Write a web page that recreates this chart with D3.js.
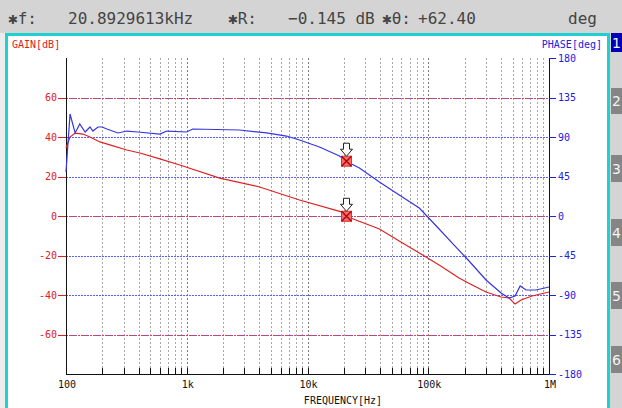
<!DOCTYPE html>
<html><head><meta charset="utf-8">
<script src="https://cdn.jsdelivr.net/npm/d3@7"></script>
<style>html,body{margin:0;padding:0;background:#d4d4d4;}svg{display:block;}</style>
</head><body>
<script>
// ---- data ----
const gainFreq = [100,108,119,138,158,191,231,319,409,598,876,1875,4010,8590,19400,20892.9613,39400,57500,84300,123000,180000,231000,301000,401000,467000,524000,587000,724000,1000000];
const gainDb   = [34.4,40,42,41.5,40,37.5,36,33.4,31.9,28.9,25.8,19.2,14.7,8.1,2.0,-0.145,-6.6,-12.7,-18.7,-24.8,-31.4,-34.9,-38.5,-41,-41.5,-44.6,-42.5,-40.5,-38.5];
const phaseFreq = [100,108,119,130,144,158,167,184,199,218,269,319,394,598,684,1000,1120,2740,4580,6700,8590,12560,18400,20892.9613,26900,39400,57500,84300,123000,163000,214000,301000,401000,467000,524000,577000,646000,781000,1000000];
const phaseDeg  = [50,116.2,94.6,104.8,95.7,101.4,96.8,101.4,101.4,99.1,94.6,96.8,95.7,93.4,96.8,95.7,99.1,98,94.6,91.1,86.6,78.6,68.4,62.4,54.7,38.7,24,9.1,-14.8,-33,-50.1,-72.9,-87.7,-93.4,-91.1,-79.7,-84.3,-84.3,-80.9];
const gainTicks = [60,40,20,0,-20,-40,-60];
const gainRedGrid = [60,0,-60];
const phaseTicks = [180,135,90,45,0,-45,-90,-135,-180];
const freqLabels = [[100,"100"],[1000,"1k"],[10000,"10k"],[100000,"100k"],[1000000,"1M"]];
const marker = {f:20892.9613, gain:-0.145, phase:62.40};
const header = [["✱f:",8],["20.8929613kHz",68],["✱R:",228],["−0.145 dB",288],["✱θ:",382],["+62.40",418],["deg",568]];
const tabs = ["1","2","3","4","5","6"];

// ---- layout ----
const W=622,H=408;
const L=66,R=549,T=58,B=374;
const svg=d3.select("body").append("svg").attr("width",W).attr("height",H);
svg.append("rect").attr("width",W).attr("height",H).attr("fill","#d4d4d4");
svg.append("rect").attr("x",0).attr("y",33).attr("width",5).attr("height",H).attr("fill","#ececec");
svg.append("rect").attr("x",5).attr("y",33).attr("width",604).attr("height",H).attr("fill","#ffffff");
// cyan frame
svg.append("path").attr("d",`M6.5,${H} V34.5 H608.5 V${H}`).attr("fill","none").attr("stroke","#1fd0d2").attr("stroke-width",3);

// header text
header.forEach(([t,x])=>{
  svg.append("text").attr("x",x).attr("y",24).text(t)
    .attr("font-family","DejaVu Sans Mono").attr("font-size",16).attr("fill","#444");
});

// tabs
const tabY=[[33,19],[88,26],[155,27],[219,27],[282,27],[346,27]];
tabs.forEach((t,i)=>{
  const [y,h]=tabY[i];
  svg.append("rect").attr("x",611).attr("y",y).attr("width",11).attr("height",h)
    .attr("fill",i===0?"#0000b8":"#858585");
  svg.append("text").attr("x",616.5).attr("y",y+h/2+5).attr("text-anchor","middle")
    .attr("font-family","DejaVu Sans").attr("font-size",14).attr("fill","#f4f4f4").text(t);
});

const x=d3.scaleLog().domain([100,1e6]).range([L,R]);
const yG=d3.scaleLinear().domain([-80,80]).range([B,T]);
const yP=d3.scaleLinear().domain([-180,180]).range([B,T]);

// vertical grid
const minor=[];
[100,1000,10000,100000].forEach(d=>{for(let k=2;k<=9;k++)minor.push(k*d);});
const decades=[1000,10000,100000];
const g=svg.append("g");
g.selectAll("line.vm").data(minor).join("line").attr("class","vm")
  .attr("x1",d=>Math.round(x(d))+0.5).attr("x2",d=>Math.round(x(d))+0.5).attr("y1",T).attr("y2",B)
  .attr("stroke","#a8a8a8").attr("stroke-dasharray","2,2");
g.selectAll("line.vd").data(decades).join("line").attr("class","vd")
  .attr("x1",d=>Math.round(x(d))+0.5).attr("x2",d=>Math.round(x(d))+0.5).attr("y1",T).attr("y2",B)
  .attr("stroke","#7a7a7a").attr("stroke-dasharray","2,2");

// horizontal grid
g.selectAll("line.hp").data(phaseTicks.filter(d=>Math.abs(d)<180)).join("line").attr("class","hp")
  .attr("x1",L).attr("x2",R).attr("y1",d=>Math.round(yP(d))+0.5).attr("y2",d=>Math.round(yP(d))+0.5)
  .attr("stroke","#5c5cff").attr("stroke-dasharray","2,1");
g.selectAll("line.hg").data(gainRedGrid).join("line").attr("class","hg")
  .attr("x1",L).attr("x2",R).attr("y1",d=>Math.round(yG(d))+0.5).attr("y2",d=>Math.round(yG(d))+0.5)
  .attr("stroke","#ee3b3b").attr("stroke-dasharray","2,2");

// axes lines
svg.append("line").attr("x1",L+0.5).attr("x2",L+0.5).attr("y1",T).attr("y2",B).attr("stroke","#111");
svg.append("line").attr("x1",R+0.5).attr("x2",R+0.5).attr("y1",T).attr("y2",B).attr("stroke","#111");
svg.append("line").attr("x1",L).attr("x2",R+1).attr("y1",B+0.5).attr("y2",B+0.5).attr("stroke","#111");

// bottom ticks
svg.selectAll("line.bt").data(minor.concat(decades)).join("line").attr("class","bt")
  .attr("x1",d=>Math.round(x(d))+0.5).attr("x2",d=>Math.round(x(d))+0.5).attr("y1",B).attr("y2",B-6)
  .attr("stroke","#111");

// left ticks + labels
const mono="DejaVu Sans Mono";
svg.selectAll("line.lt").data(gainTicks).join("line").attr("class","lt")
  .attr("x1",58).attr("x2",L).attr("y1",d=>Math.round(yG(d))+0.5).attr("y2",d=>Math.round(yG(d))+0.5)
  .attr("stroke","#e02020");
svg.selectAll("text.ll").data(gainTicks).join("text").attr("class","ll")
  .attr("x",57).attr("y",d=>yG(d)+3.5).attr("text-anchor","end")
  .attr("font-family",mono).attr("font-size",10).attr("fill","#e02020").text(d=>d);
// right ticks + labels
svg.selectAll("line.rt").data(phaseTicks).join("line").attr("class","rt")
  .attr("x1",R).attr("x2",R+7).attr("y1",d=>Math.round(yP(d))+0.5).attr("y2",d=>Math.round(yP(d))+0.5)
  .attr("stroke","#2020e0");
svg.selectAll("text.rl").data(phaseTicks).join("text").attr("class","rl")
  .attr("x",558).attr("y",d=>yP(d)+3.5)
  .attr("font-family",mono).attr("font-size",10).attr("fill","#2020e0").text(d=>d);
// bottom labels
svg.selectAll("text.bl").data(freqLabels).join("text").attr("class","bl")
  .attr("x",d=>x(d[0])+1).attr("y",388).attr("text-anchor","middle")
  .attr("font-family",mono).attr("font-size",10).attr("fill","#111").text(d=>d[1]);

// axis titles
svg.append("text").attr("x",12).attr("y",48).attr("font-family",mono).attr("font-size",10).attr("fill","#e02020").text("GAIN[dB]");
svg.append("text").attr("x",602).attr("y",48).attr("text-anchor","end").attr("font-family",mono).attr("font-size",10).attr("fill","#2020e0").text("PHASE[deg]");
svg.append("text").attr("x",343).attr("y",404).attr("text-anchor","middle").attr("font-family",mono).attr("font-size",10).attr("fill","#111").text("FREQUENCY[Hz]");

// curves
const lineG=d3.line().x((d,i)=>x(gainFreq[i])).y(d=>yG(d));
const lineP=d3.line().x((d,i)=>x(phaseFreq[i])).y(d=>yP(d));
svg.append("path").attr("d",lineG(gainDb)).attr("fill","none").attr("stroke","#dd2222").attr("stroke-width",1.2);
svg.append("path").attr("d",lineP(phaseDeg)).attr("fill","none").attr("stroke","#3636dd").attr("stroke-width",1.2);

// markers
function drawMarker(cx,cy){
  const m=svg.append("g");
  m.append("rect").attr("x",cx-5).attr("y",cy-5).attr("width",10).attr("height",10)
    .attr("fill","#f07070").attr("stroke","#e03030");
  m.append("path").attr("d",`M${cx-5},${cy-5}L${cx+5},${cy+5}M${cx+5},${cy-5}L${cx-5},${cy+5}`)
    .attr("stroke","#c00000").attr("stroke-width",1.5);
  const ty=cy-5;
  m.append("path").attr("d",`M${cx-3},${ty-13}H${cx+3}V${ty-7}H${cx+6}L${cx},${ty}L${cx-6},${ty-7}H${cx-3}Z`)
    .attr("fill","#fff").attr("stroke","#222").attr("stroke-width",1);
}
const mx=Math.round(x(marker.f))+0.5;
drawMarker(mx,yP(marker.phase));
drawMarker(mx,yG(marker.gain));
</script>
</body></html>
